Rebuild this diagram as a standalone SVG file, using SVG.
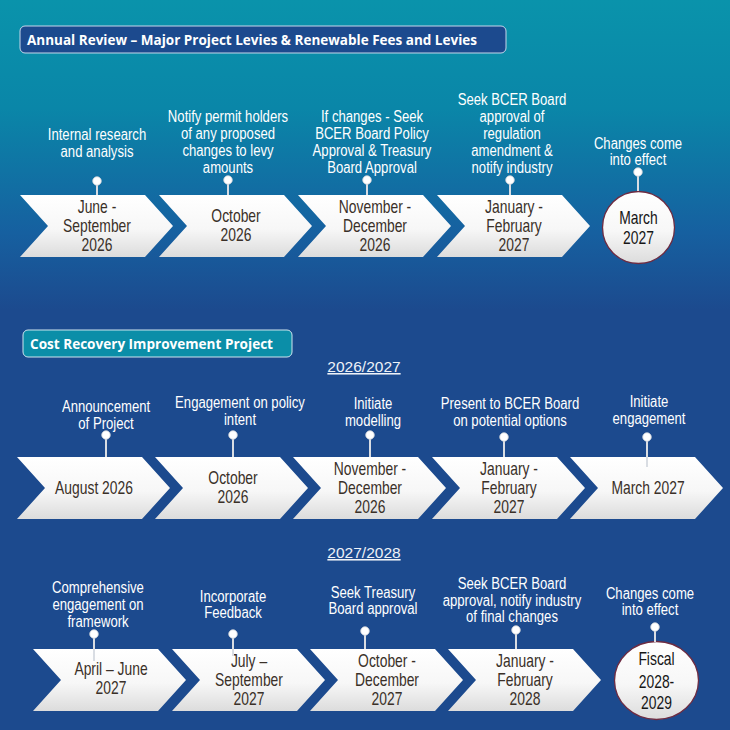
<svg xmlns="http://www.w3.org/2000/svg" width="730" height="730" viewBox="0 0 730 730">
<defs>
<linearGradient id="bg" x1="0" y1="0" x2="0" y2="310" gradientUnits="userSpaceOnUse">
<stop offset="0" stop-color="#0a93ab"/>
<stop offset="0.35" stop-color="#0a86a8"/>
<stop offset="0.75" stop-color="#1660a0"/>
<stop offset="1" stop-color="#1c4a8e"/>
</linearGradient>
<linearGradient id="wg" x1="0" y1="0" x2="0" y2="1">
<stop offset="0" stop-color="#ffffff"/>
<stop offset="0.55" stop-color="#f7f7f7"/>
<stop offset="1" stop-color="#dcdcdc"/>
</linearGradient>
<path id="chev" d="M0,0 H125 L153,31 L125,62 H0 L28,31 Z"/>
</defs>
<style>
.chev{fill:url(#wg);}
.ct{font-family:"Liberation Sans",Arial,sans-serif;font-size:18.5px;fill:#3a3028;text-anchor:middle;}
.cc{font-family:"Liberation Sans",Arial,sans-serif;font-size:18.5px;fill:#161616;text-anchor:middle;}
.lb{font-family:"Liberation Sans",Arial,sans-serif;font-size:16px;fill:#ffffff;text-anchor:middle;}
.hd{font-family:"Liberation Sans",Arial,sans-serif;font-size:15.5px;fill:#eef2f8;text-anchor:middle;text-decoration:underline;}
.tt{font-family:"Open Sans","Liberation Sans",sans-serif;font-weight:bold;font-size:14.5px;fill:#ffffff;}
.circ{fill:url(#wg);stroke:#6e2c42;stroke-width:1.3;}
.pl{stroke:#d9dde3;stroke-width:2;fill:none;}
.pd{fill:#ffffff;stroke:#c9ced6;stroke-width:0.8;}
</style>
<rect x="0" y="0" width="730" height="730" fill="#1c4a8e"/>
<rect x="0" y="0" width="730" height="310" fill="url(#bg)"/>

<g id="title1">
<rect x="20" y="26" width="486" height="27" rx="5" fill="#1c4a8e" stroke="#c6d6ea" stroke-width="1"/>
<text class="tt" x="27" y="45" textLength="450" lengthAdjust="spacingAndGlyphs">Annual Review – Major Project Levies &amp; Renewable Fees and Levies</text>
</g>
<g id="title2">
<rect x="23" y="330" width="269" height="27" rx="5" fill="#0b8ea8" stroke="#cfe5ee" stroke-width="1"/>
<text class="tt" x="30" y="349" textLength="243" lengthAdjust="spacingAndGlyphs">Cost Recovery Improvement Project</text>
</g>
<g id="hdr1"><text class="hd" x="364" y="372">2026/2027</text></g>
<g id="hdr2"><text class="hd" x="364" y="558">2027/2028</text></g>

<!-- Row 1 -->
<g id="r1n1">
<use href="#chev" class="chev" x="20" y="195"/>
<g transform="translate(97,0) scale(0.75,1)"><text class="ct" x="0" y="213">June -</text><text class="ct" x="0" y="232">September</text><text class="ct" x="0" y="251">2026</text></g>
<g transform="translate(97,0) scale(0.82,1)"><text class="lb" x="0" y="140">Internal research</text><text class="lb" x="0" y="157">and analysis</text></g>
</g>
<g id="r1n2">
<use href="#chev" class="chev" x="159" y="195"/>
<g transform="translate(236,0) scale(0.75,1)"><text class="ct" x="0" y="222">October</text><text class="ct" x="0" y="241">2026</text></g>
<g transform="translate(228,0) scale(0.82,1)"><text class="lb" x="0" y="122">Notify permit holders</text><text class="lb" x="0" y="139">of any proposed</text><text class="lb" x="0" y="156">changes to levy</text><text class="lb" x="0" y="173">amounts</text></g>
</g>
<g id="r1n3">
<use href="#chev" class="chev" x="298" y="195"/>
<g transform="translate(375,0) scale(0.75,1)"><text class="ct" x="0" y="213">November -</text><text class="ct" x="0" y="232">December</text><text class="ct" x="0" y="251">2026</text></g>
<g transform="translate(372,0) scale(0.82,1)"><text class="lb" x="0" y="122">If changes - Seek</text><text class="lb" x="0" y="139">BCER Board Policy</text><text class="lb" x="0" y="156">Approval &amp; Treasury</text><text class="lb" x="0" y="173">Board Approval</text></g>
</g>
<g id="r1n4">
<use href="#chev" class="chev" x="437" y="195"/>
<g transform="translate(514,0) scale(0.75,1)"><text class="ct" x="0" y="213">January -</text><text class="ct" x="0" y="232">February</text><text class="ct" x="0" y="251">2027</text></g>
<g transform="translate(512,0) scale(0.82,1)"><text class="lb" x="0" y="105">Seek BCER Board</text><text class="lb" x="0" y="122">approval of</text><text class="lb" x="0" y="139">regulation</text><text class="lb" x="0" y="156">amendment &amp;</text><text class="lb" x="0" y="173">notify industry</text></g>
</g>
<g id="r1n5">
<circle class="circ" cx="638.5" cy="227.5" r="36"/>
<g transform="translate(638.5,0) scale(0.75,1)"><text class="cc" x="0" y="224">March</text><text class="cc" x="0" y="244">2027</text></g>
<g transform="translate(638,0) scale(0.82,1)"><text class="lb" x="0" y="149">Changes come</text><text class="lb" x="0" y="165">into effect</text></g>
</g>

<!-- Row 2 -->
<g id="r2n1">
<use href="#chev" class="chev" x="17" y="457"/>
<g transform="translate(94,0) scale(0.75,1)"><text class="ct" x="0" y="494">August 2026</text></g>
<g transform="translate(106,0) scale(0.82,1)"><text class="lb" x="0" y="412">Announcement</text><text class="lb" x="0" y="429">of Project</text></g>
</g>
<g id="r2n2">
<use href="#chev" class="chev" x="155" y="457"/>
<g transform="translate(233,0) scale(0.75,1)"><text class="ct" x="0" y="484">October</text><text class="ct" x="0" y="503">2026</text></g>
<g transform="translate(240,0) scale(0.82,1)"><text class="lb" x="0" y="408">Engagement on policy</text><text class="lb" x="0" y="425">intent</text></g>
</g>
<g id="r2n3">
<use href="#chev" class="chev" x="293" y="457"/>
<g transform="translate(370,0) scale(0.75,1)"><text class="ct" x="0" y="475">November -</text><text class="ct" x="0" y="494">December</text><text class="ct" x="0" y="513">2026</text></g>
<g transform="translate(373,0) scale(0.82,1)"><text class="lb" x="0" y="409">Initiate</text><text class="lb" x="0" y="426">modelling</text></g>
</g>
<g id="r2n4">
<use href="#chev" class="chev" x="432" y="457"/>
<g transform="translate(509,0) scale(0.75,1)"><text class="ct" x="0" y="475">January -</text><text class="ct" x="0" y="494">February</text><text class="ct" x="0" y="513">2027</text></g>
<g transform="translate(510,0) scale(0.82,1)"><text class="lb" x="0" y="409">Present to BCER Board</text><text class="lb" x="0" y="426">on potential options</text></g>
</g>
<g id="r2n5">
<use href="#chev" class="chev" x="570" y="457"/>
<g transform="translate(648,0) scale(0.75,1)"><text class="ct" x="0" y="494">March 2027</text></g>
<g transform="translate(649,0) scale(0.82,1)"><text class="lb" x="0" y="407">Initiate</text><text class="lb" x="0" y="424">engagement</text></g>
</g>

<!-- Row 3 -->
<g id="r3n1">
<use href="#chev" class="chev" x="33" y="649"/>
<g transform="translate(111,0) scale(0.75,1)"><text class="ct" x="0" y="675">April – June</text><text class="ct" x="0" y="694">2027</text></g>
<g transform="translate(98,0) scale(0.82,1)"><text class="lb" x="0" y="593">Comprehensive</text><text class="lb" x="0" y="610">engagement on</text><text class="lb" x="0" y="627">framework</text></g>
</g>
<g id="r3n2">
<use href="#chev" class="chev" x="172" y="649"/>
<g transform="translate(249,0) scale(0.75,1)"><text class="ct" x="0" y="667">July –</text><text class="ct" x="0" y="686">September</text><text class="ct" x="0" y="705">2027</text></g>
<g transform="translate(233,0) scale(0.82,1)"><text class="lb" x="0" y="602">Incorporate</text><text class="lb" x="0" y="618">Feedback</text></g>
</g>
<g id="r3n3">
<use href="#chev" class="chev" x="310" y="649"/>
<g transform="translate(387,0) scale(0.75,1)"><text class="ct" x="0" y="667">October -</text><text class="ct" x="0" y="686">December</text><text class="ct" x="0" y="705">2027</text></g>
<g transform="translate(373,0) scale(0.82,1)"><text class="lb" x="0" y="598">Seek Treasury</text><text class="lb" x="0" y="614">Board approval</text></g>
</g>
<g id="r3n4">
<use href="#chev" class="chev" x="448" y="649"/>
<g transform="translate(525,0) scale(0.75,1)"><text class="ct" x="0" y="667">January -</text><text class="ct" x="0" y="686">February</text><text class="ct" x="0" y="705">2028</text></g>
<g transform="translate(512,0) scale(0.82,1)"><text class="lb" x="0" y="589">Seek BCER Board</text><text class="lb" x="0" y="606">approval, notify industry</text><text class="lb" x="0" y="622">of final changes</text></g>
</g>
<g id="r3n5">
<ellipse class="circ" cx="656.5" cy="680.5" rx="42" ry="39"/>
<g transform="translate(656.5,0) scale(0.75,1)"><text class="cc" x="0" y="665">Fiscal</text><text class="cc" x="0" y="688">2028-</text><text class="cc" x="0" y="709">2029</text></g>
<g transform="translate(650,0) scale(0.82,1)"><text class="lb" x="0" y="599">Changes come</text><text class="lb" x="0" y="615">into effect</text></g>
</g>

<g id="connectors">
<line class="pl" x1="97" y1="181" x2="97" y2="195"/><circle class="pd" cx="97" cy="181" r="4.3"/>
<line class="pl" x1="228" y1="180" x2="228" y2="195"/><circle class="pd" cx="228" cy="180" r="4.3"/>
<line class="pl" x1="367" y1="180" x2="367" y2="195"/><circle class="pd" cx="367" cy="180" r="4.3"/>
<line class="pl" x1="510" y1="180" x2="510" y2="195"/><circle class="pd" cx="510" cy="180" r="4.3"/>
<line class="pl" x1="638" y1="172" x2="638" y2="191"/><circle class="pd" cx="638" cy="172" r="4.3"/>
<line class="pl" x1="106" y1="435" x2="106" y2="457"/><circle class="pd" cx="106" cy="435" r="4.3"/>
<line class="pl" x1="233" y1="435" x2="233" y2="457"/><circle class="pd" cx="233" cy="435" r="4.3"/>
<line class="pl" x1="370" y1="435" x2="370" y2="457"/><circle class="pd" cx="370" cy="435" r="4.3"/>
<line class="pl" x1="504" y1="437" x2="504" y2="457"/><circle class="pd" cx="504" cy="437" r="4.3"/>
<line class="pl" x1="647" y1="437" x2="647" y2="467"/><circle class="pd" cx="647" cy="437" r="4.3"/>
<line class="pl" x1="94" y1="634" x2="94" y2="661"/><circle class="pd" cx="94" cy="634" r="4.3"/>
<line class="pl" x1="233" y1="634" x2="233" y2="656"/><circle class="pd" cx="233" cy="634" r="4.3"/>
<line class="pl" x1="365" y1="631" x2="365" y2="649"/><circle class="pd" cx="365" cy="631" r="4.3"/>
<line class="pl" x1="516" y1="630" x2="516" y2="649"/><circle class="pd" cx="516" cy="630" r="4.3"/>
<line class="pl" x1="655" y1="627" x2="655" y2="642"/><circle class="pd" cx="655" cy="627" r="4.3"/>
</g>
</svg>
